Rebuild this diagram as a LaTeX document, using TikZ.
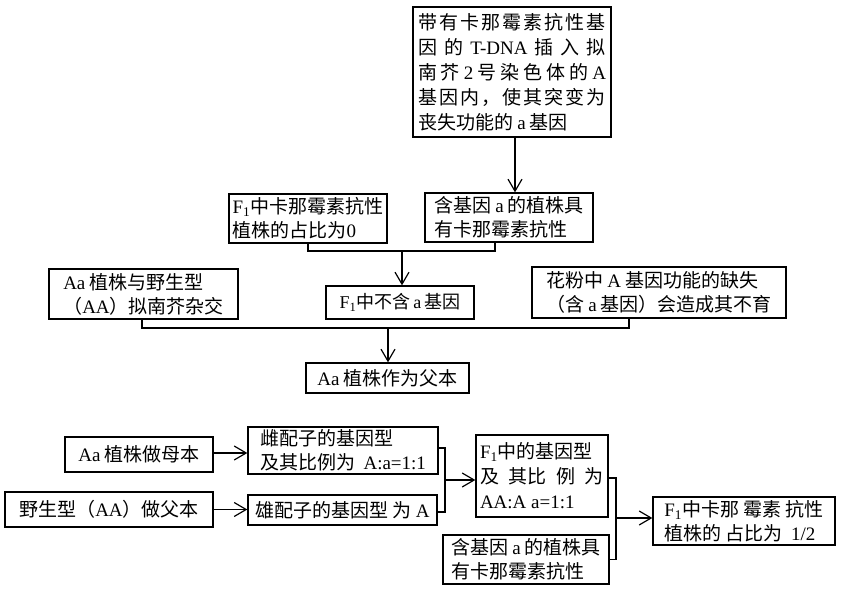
\documentclass[tikz,border=0pt]{standalone}
\usepackage{fontspec}
\setmainfont{Liberation Serif}
\newfontfamily\cjk{Noto Sans CJK SC}
\newfontfamily\lat{Liberation Serif}
\usetikzlibrary{arrows.meta,calc}
\newcommand\jl[2]{\makebox[#1][s]{#2}}
\newcommand\g{\hskip 0pt plus 1fil\relax}
\newcommand\Fone{{\lat F\textsubscript{1}}}
\begin{document}
\begin{tikzpicture}[x=1pt,y=1pt,
  bx/.style={draw,line width=1.3pt,inner sep=0pt,align=left,font=\cjk\fontsize{19}{25}\selectfont},
  arr/.style={-{Straight Barb[length=12pt,width=14pt]},line width=1.2pt},
  ln/.style={line width=1.2pt}]
\useasboundingbox (0,0) rectangle (844,-593);
% top part
\node[bx,minimum width=198pt,minimum height=130pt] (b1) at (512,-72)
  {\jl{188pt}{带\g 有\g 卡\g 那\g 霉\g 素\g 抗\g 性\g 基}\\
   \jl{188pt}{因\g 的\g {\lat T-DNA}\g 插\g 入\g 拟}\\
   \jl{188pt}{南\g 芥\g {\lat 2}\g 号\g 染\g 色\g 体\g 的\g {\lat A}}\\
   \jl{188pt}{基\g 因\g 内\g ，\g 使\g 其\g 突\g 变\g 为}\\
   丧失功能的 {\lat a} 基因};
\node[bx,minimum width=158pt,minimum height=49pt,font=\cjk\fontsize{19}{24}\selectfont] (b2) at (308,-218.5)
  {\Fone 中卡那霉素抗性\\ 植株的占比为{\lat 0}};
\node[bx,minimum width=168pt,minimum height=49pt,font=\cjk\fontsize{19}{24}\selectfont] (b3) at (509,-217.5)
  {含基因 {\lat a} 的植株具\\ 有卡那霉素抗性};
\node[bx,minimum width=148pt,minimum height=33pt,font=\cjk\fontsize{18}{24}\selectfont] (b4) at (400,-302.5)
  {\Fone 中不含\,{\lat a}\,基因};
\node[bx,minimum width=189pt,minimum height=50pt,font=\cjk\fontsize{19}{24}\selectfont] (b5) at (143.5,-294)
  {{\lat Aa} 植株与野生型\\ （{\lat AA}）拟南芥杂交};
\node[bx,minimum width=254pt,minimum height=51pt,font=\cjk\fontsize{19}{24}\selectfont] (b6) at (659,-292.5)
  {花粉中 {\lat A} 基因功能的缺失\\ （含 {\lat a} 基因）会造成其不育};
\node[bx,minimum width=163pt,minimum height=30pt] (b7) at (387.5,-378)
  {{\lat Aa} 植株作为父本};
% bottom part
\node[bx,minimum width=148pt,minimum height=35pt] (b8) at (139,-454.5)
  {{\lat Aa} 植株做母本};
\node[bx,minimum width=208pt,minimum height=35pt] (b9) at (109,-509.5)
  {野生型（{\lat AA}）做父本};
\node[bx,minimum width=190pt,minimum height=47pt,font=\cjk\fontsize{19}{24}\selectfont] (b10) at (343,-450.5)
  {雌配子的基因型\\ 及其比例为\ \ {\lat A:a=1:1}};
\node[bx,minimum width=189pt,minimum height=30pt] (b11) at (342.5,-510)
  {雄配子的基因型 为 {\lat A}};
\node[bx,minimum width=132pt,minimum height=82pt] (b12) at (542,-476)
  {\Fone 中的基因型\\ \jl{124pt}{及 其比 例 为}\\ {\lat AA:A a=1:1}};
\node[bx,minimum width=166pt,minimum height=49pt,font=\cjk\fontsize{19}{24}\selectfont] (b13) at (526,-559.5)
  {含基因 {\lat a} 的植株具\\ 有卡那霉素抗性};
\node[bx,minimum width=182pt,minimum height=48pt,font=\cjk\fontsize{19}{24}\selectfont] (b14) at (744,-521)
  {\Fone 中卡那 霉素 抗性\\ 植株的 占比为\ \ {\lat 1/2}};
% connectors top
\draw[arr] ([xshift=3pt]b1.south) -- ([xshift=3pt]b1.south |- b3.north);
\coordinate (j1) at (402,-251);
\draw[ln] (b2.south) |- (j1) -| ([xshift=-14pt]b3.south);
\draw[arr] (j1) -- (j1 |- b4.north);
\coordinate (j2) at (388,-328);
\draw[ln] ([xshift=-1.5pt]b5.south) |- (j2) -| ([xshift=-30pt]b6.south);
\draw[arr] (j2) -- (j2 |- b7.north);
% connectors bottom
\draw[arr] ([yshift=1.5pt]b8.east) -- ([yshift=1.5pt]b8.east -| b10.west);
\draw[arr] (b9.east) -- (b9.east -| b11.west);
\coordinate (j3) at (445,-480);
\draw[ln] ([yshift=2.5pt]b10.east) -| (j3) |- ([yshift=-2pt]b11.east);
\draw[arr] (j3) -- (j3 -| b12.west);
\coordinate (j4) at (616,-518);
\draw[ln] ([yshift=-2pt]b12.east) -| (j4) |- (b13.east);
\draw[arr] (j4) -- (j4 -| b14.west);
\end{tikzpicture}
\end{document}
